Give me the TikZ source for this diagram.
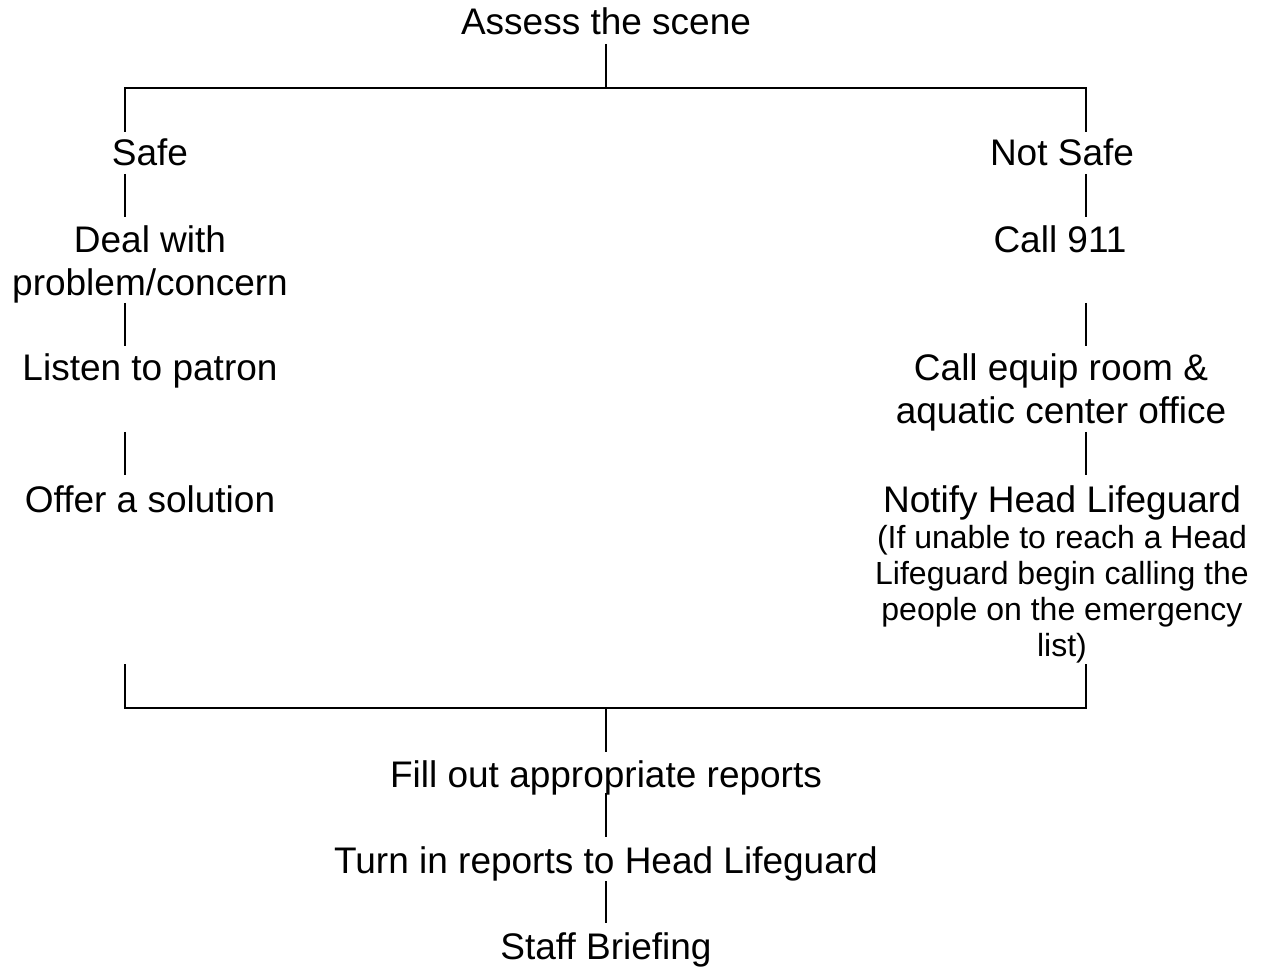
\documentclass[tikz,border=0pt]{standalone}
\usepackage{fontspec}
\setmainfont{Liberation Sans}
\newcommand\mlines[1]{\begin{tabular}[t]{@{}c@{}}#1\end{tabular}}
\begin{document}
\begin{tikzpicture}[x=1pt,y=-1pt,
  lbl/.style={anchor=base, inner sep=0pt, font=\fontsize{37}{43}\selectfont},
  conn/.style={draw=black, line width=1.8pt}]
\useasboundingbox (0,0) rectangle (1262,968);
% nodes
\node[lbl] (assess) at (606,35) {Assess the scene};
\node[lbl] (safe) at (150,166) {Safe};
\node[lbl] (notsafe) at (1062,166) {Not Safe};
\node[lbl] (deal) at (150,253) {\mlines{Deal with\\problem/concern}};
\node[lbl] (listen) at (150,381) {Listen to patron};
\node[lbl] (offer) at (150,512) {Offer a solution};
\node[lbl] (call911) at (1060,253) {Call 911};
\node[lbl] (equip) at (1061,381) {\mlines{Call equip room \&\\aquatic center office}};
\node[lbl] (notify) at (1062,512) {\fontsize{32}{36}\selectfont\mlines{{\fontsize{37}{43}\selectfont Notify Head Lifeguard}\\(If unable to reach a Head\\Lifeguard begin calling the\\people on the emergency\\list)}};
\node[lbl] (fill) at (606,787) {Fill out appropriate reports};
\node[lbl] (turn) at (606,873) {Turn in reports to Head Lifeguard};
\node[lbl] (staff) at (606,959) {Staff Briefing};
% connector ends
\coordinate (a1) at (606,44);
\coordinate (tc) at (606,88);
\coordinate (tl) at (125,88);
\coordinate (tr) at (1086,88);
\coordinate (l0) at (125,132);
\coordinate (r0) at (1086,132);
\coordinate (l1a) at (125,174); \coordinate (l1b) at (125,217);
\coordinate (r1a) at (1086,174); \coordinate (r1b) at (1086,217);
\coordinate (l2a) at (125,303); \coordinate (l2b) at (125,346);
\coordinate (r2a) at (1086,303); \coordinate (r2b) at (1086,346);
\coordinate (l3a) at (125,432); \coordinate (l3b) at (125,475);
\coordinate (r3a) at (1086,432); \coordinate (r3b) at (1086,475);
\coordinate (l4) at (125,664);
\coordinate (r4) at (1086,664);
\coordinate (bl) at (125,708);
\coordinate (br) at (1086,708);
\coordinate (bc) at (606,708);
\coordinate (c1) at (606,752);
\coordinate (c2a) at (606,793); \coordinate (c2b) at (606,837);
\coordinate (c3a) at (606,881); \coordinate (c3b) at (606,923);
% connectors
\path[conn] (a1) -- (tc);
\path[conn] (l0) -- (tl) -- (tr) -- (r0);
\path[conn] (l1a) -- (l1b);
\path[conn] (r1a) -- (r1b);
\path[conn] (l2a) -- (l2b);
\path[conn] (r2a) -- (r2b);
\path[conn] (l3a) -- (l3b);
\path[conn] (r3a) -- (r3b);
\path[conn] (l4) -- (bl) -- (br) -- (r4);
\path[conn] (bc) -- (c1);
\path[conn] (c2a) -- (c2b);
\path[conn] (c3a) -- (c3b);
\end{tikzpicture}
\end{document}
